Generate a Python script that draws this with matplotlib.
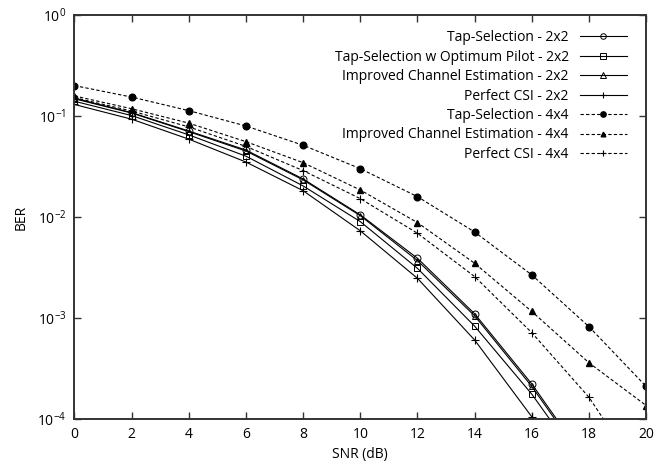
# BER vs SNR for the channel estimation schemes (2x2 and 4x4)

import numpy as np
import matplotlib
matplotlib.use('Agg')
import matplotlib.pyplot as plt

SNR = [0, 2, 4, 6, 8, 10, 12, 14, 16, 18, 20]

TapSel22 = [0.150, 0.108, 0.071, 0.046, 0.0238, 0.0105, 0.0039, 0.00110, 0.000222, 3.5e-5, 5e-6]
TapSelOpt22 = [0.140, 0.101, 0.065, 0.040, 0.0203, 0.0090, 0.0031, 0.00083, 0.000176, 2.85e-5, 4e-6]
Improved22 = [0.148, 0.107, 0.070, 0.045, 0.0233, 0.0103, 0.0037, 0.00105, 0.000210, 3.3e-5, 4.5e-6]
Perfect22 = [0.130, 0.093, 0.059, 0.035, 0.0182, 0.0073, 0.00247, 0.000605, 0.000105, 1.7e-5, 2e-6]
TapSel44 = [0.200, 0.154, 0.113, 0.0796, 0.0513, 0.0301, 0.0159, 0.0071, 0.00267, 0.00082, 0.00021]
Improved44 = [0.158, 0.118, 0.085, 0.0557, 0.0345, 0.0185, 0.0088, 0.00348, 0.00116, 0.00036, 0.000136]
Perfect44 = [0.152, 0.112, 0.078, 0.050, 0.0288, 0.0152, 0.0069, 0.00257, 0.000715, 0.000164, 2.3e-5]

Labels = ['Tap-Selection - 2x2',
          'Tap-Selection w Optimum Pilot - 2x2',
          'Improved Channel Estimation - 2x2',
          'Perfect CSI - 2x2',
          'Tap-Selection - 4x4',
          'Improved Channel Estimation - 4x4',
          'Perfect CSI - 4x4']

plt.rcParams['font.family'] = ['Open Sans', 'DejaVu Sans']
plt.rcParams['mathtext.default'] = 'regular'
plt.rcParams['font.size'] = 10

fig = plt.figure(figsize=(6.71, 4.69), dpi=100)
ax = fig.add_axes([0.111, 0.1066, 0.852, 0.8614])

solid = '-'
dashed = (0, (3, 2))
lw = 0.8

ax.plot(SNR, TapSel22, linestyle=solid, color='black', lw=lw, marker='o', ms=5, mfc='none', mew=0.7, label=Labels[0])
ax.plot(SNR, TapSelOpt22, linestyle=solid, color='black', lw=lw, marker='s', ms=5, mfc='none', mew=0.7, label=Labels[1])
ax.plot(SNR, Improved22, linestyle=solid, color='black', lw=lw, marker='^', ms=5, mfc='none', mew=0.7, label=Labels[2])
ax.plot(SNR, Perfect22, linestyle=solid, color='black', lw=lw, marker='+', ms=6, mew=0.8, label=Labels[3])
ax.plot(SNR, TapSel44, linestyle=dashed, color='black', lw=lw, marker='o', ms=4.8, label=Labels[4])
ax.plot(SNR, Improved44, linestyle=dashed, color='black', lw=lw, marker='^', ms=4.2, label=Labels[5])
ax.plot(SNR, Perfect44, linestyle=dashed, color='black', lw=lw, marker='+', ms=6, mew=0.8, label=Labels[6])

ax.set_yscale('log')
ax.set_xlim(0, 20)
ax.set_ylim(1e-4, 1)
ax.set_xticks(np.arange(0, 21, 2))
ax.set_yticks([1e-4, 1e-3, 1e-2, 1e-1, 1])
ax.set_yticklabels(['$10^{-4}$', '$10^{-3}$', '$10^{-2}$', '$10^{-1}$', '$10^{0}$'])
ax.minorticks_off()
ax.tick_params(direction='in', top=True, right=True, length=5, width=1.0, color='#333333', labelsize=10, pad=6)
for s in ax.spines.values():
  s.set_linewidth(1.4)
  s.set_color('#333333')

ax.set_xlabel('SNR (dB)', labelpad=3)
ax.set_ylabel('BER', labelpad=6)

ax.legend(loc='upper right', bbox_to_anchor=(0.981, 0.983), frameon=False, markerfirst=False,
          handlelength=3.4, labelspacing=0.32, borderaxespad=0.2, handletextpad=0.8,
          markerscale=0.8, fontsize=10)

fig.savefig('out.png', dpi=100)
